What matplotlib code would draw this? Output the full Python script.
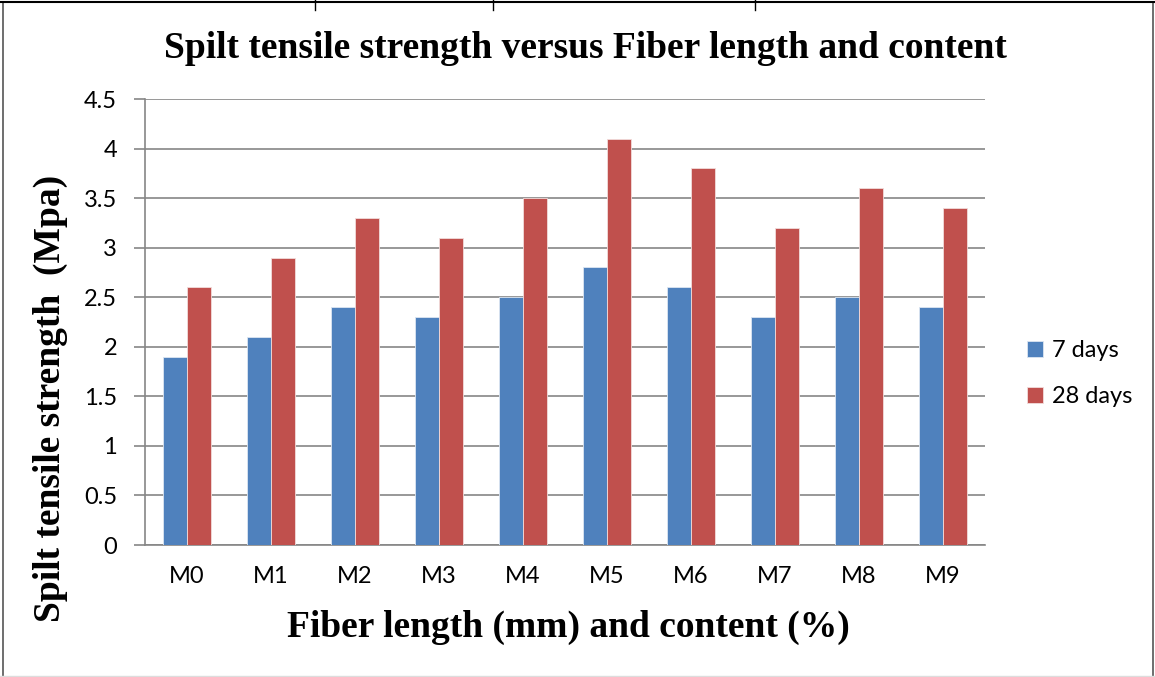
import numpy as np
import matplotlib
matplotlib.use("Agg")
import matplotlib.pyplot as plt
from matplotlib.lines import Line2D

mixes = ["M0", "M1", "M2", "M3", "M4", "M5", "M6", "M7", "M8", "M9"]
days7 = [1.9, 2.1, 2.4, 2.3, 2.5, 2.8, 2.6, 2.3, 2.5, 2.4]
days28 = [2.6, 2.9, 3.3, 3.1, 3.5, 4.1, 3.8, 3.2, 3.6, 3.4]
yticks = [0, 0.5, 1, 1.5, 2, 2.5, 3, 3.5, 4, 4.5]

blue = "#4F81BD"
red = "#C0504D"
grid_col = "#868686"

fig = plt.figure(figsize=(11.55, 6.77), dpi=100)
ax = fig.add_axes([145 / 1155, 1 - 545 / 677, 840 / 1155, 446 / 677])

x = np.arange(len(mixes))
w = 0.286
ax.bar(x - w / 2, days7, w, color=blue, edgecolor="#dce6f2", linewidth=0.6,
       label="7 days", zorder=3)
ax.bar(x + w / 2, days28, w, color=red, edgecolor="#f2dcdb", linewidth=0.6,
       label="28 days", zorder=3)

ax.set_xlim(-0.5, len(mixes) - 0.5)
ax.set_ylim(0, 4.5)
ax.set_yticks(yticks)
ax.set_yticklabels([f"{v:g}" for v in yticks])
ax.set_xticks(x)
ax.set_xticklabels(mixes)
ax.yaxis.grid(True, color=grid_col, linewidth=1.2, zorder=0)
ax.set_axisbelow(True)

for s in ["top", "right"]:
    ax.spines[s].set_visible(False)
for s in ["left", "bottom"]:
    ax.spines[s].set_color(grid_col)
    ax.spines[s].set_linewidth(1.2)

tick_font = "Lato"
ax.tick_params(axis="y", length=8, width=1.2, color=grid_col, pad=12,
               labelsize=17)
ax.tick_params(axis="x", length=0, pad=15, labelsize=17)
for lab in ax.get_xticklabels() + ax.get_yticklabels():
    lab.set_fontfamily(tick_font)

fig.text(585 / 1155, 1 - 48 / 677,
         "Spilt tensile strength versus Fiber length and content",
         ha="center", va="center", fontsize=27, fontweight="bold",
         family="Liberation Serif")
fig.text(50 / 1155, 1 - 398 / 677, "Spilt tensile strength  (Mpa)",
         rotation=90, ha="center", va="center", fontsize=27,
         fontweight="bold", family="Liberation Serif")
fig.text(568 / 1155, 1 - 627 / 677, "Fiber length (mm) and content (%)",
         ha="center", va="center", fontsize=27, fontweight="bold",
         family="Liberation Serif")

leg = ax.legend(loc="center left", bbox_to_anchor=(1.025, 0.384),
                frameon=False, prop={"family": tick_font, "size": 17},
                handlelength=0.65, handleheight=0.65, handletextpad=0.4,
                labelspacing=1.05)

# page frame around the chart
fig.add_artist(Line2D([0.003, 0.003], [0, 0.997], color="#555555", lw=1.2))
fig.add_artist(Line2D([0.998, 0.998], [0, 0.997], color="#555555", lw=1.2))
fig.add_artist(Line2D([0, 1], [0.997, 0.997], color="black", lw=1.5))
fig.add_artist(Line2D([0, 1], [0.002, 0.002], color="#dddddd", lw=1.0))
for xp in [315, 493, 755]:
    fig.add_artist(Line2D([xp / 1155, xp / 1155], [0.985, 1.0],
                          color="black", lw=1.0))

fig.savefig("out.png", dpi=100)
